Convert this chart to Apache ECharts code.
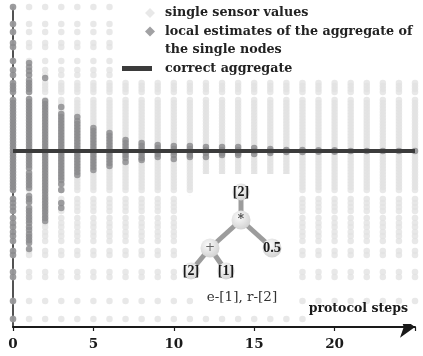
<!DOCTYPE html>
<html><head><meta charset="utf-8">
<script src="https://cdn.jsdelivr.net/npm/echarts@6/dist/echarts.min.js"></script>
<style>html,body{margin:0;padding:0;background:#fff}#c{width:423px;height:356px}</style>
</head><body><div id="c"></div>
<script>
// protocol steps (x)
const steps = [0,1,2,3,4,5,6,7,8,9,10,11,12,13,14,15,16,17,18,19,20,21,22,23,24,25];
const xTicks = [0,5,10,15,20];
// single sensor values (same set at each step)
const sensorValues = [20.0,18.94,18.44,17.75,17.5,16.63,16.06,15.75,15.25,15.06,14.88,14.69,
  14.19,14.0,13.81,13.63,13.44,13.25,13.06,12.88,12.69,12.5,12.31,12.13,11.94,11.75,11.56,11.38,
  11.19,11.0,10.81,10.63,10.44,10.25,10.06,9.88,9.69,9.5,9.31,9.13,8.94,8.75,8.56,
  8.0,7.75,7.5,7.25,6.81,6.5,6.25,5.94,5.69,5.38,4.75,4.5,3.44,3.13,1.63,0.5];
// local estimates of the aggregate, one list per protocol step
const estimatesStep0 = sensorValues;
const estimates = [
  estimatesStep0,
  [16.5,16.25,16.0,15.75,15.44,15.25,15.06,14.88,14.69,14.25,14.06,13.88,13.69,13.5,13.31,13.13,12.94,12.75,12.56,12.38,12.19,12.0,11.81,11.63,11.44,11.25,11.06,10.88,10.69,10.5,10.31,10.13,9.94,9.63,9.44,9.25,9.06,8.88,8.69,8.19,8.0,7.81,7.44,7.25,7.06,6.88,6.69,6.5,6.25,6.06,5.81,5.63,5.44,5.25,4.88],
  [15.56,14.13,13.94,13.75,13.56,13.38,13.19,13.0,12.81,12.63,12.44,12.25,12.06,11.88,11.69,11.5,11.31,11.13,10.94,10.75,10.56,10.38,10.19,10.0,9.81,9.63,9.44,9.25,9.06,8.88,8.69,8.5,8.31,8.13,7.94,7.75,7.56,7.38,7.19,7.0,6.81,6.63],
  [13.75,13.31,13.13,12.94,12.75,12.56,12.38,12.19,12.0,11.81,11.63,11.44,11.25,11.06,10.88,10.69,10.5,10.31,10.13,9.94,9.75,9.56,9.38,9.19,8.94,8.56,7.75,7.44],
  [13.13,12.88,12.69,12.5,12.31,12.13,11.94,11.75,11.56,11.38,11.19,11.0,10.81,10.63,10.44,10.25,10.06,9.88,9.69,9.5],
  [12.44,12.25,12.06,11.88,11.69,11.5,11.31,11.13,10.94,10.75,10.56,10.38,10.19,10.0,9.81],
  [12.13,11.94,11.75,11.56,11.38,11.19,11.0,10.81,10.63,10.44,10.25,10.06],
  [11.69,11.5,11.31,11.13,10.94,10.75,10.56,10.31],
  [11.5,11.31,11.13,10.94,10.75,10.56,10.44],
  [11.38,11.19,11.0,10.81,10.63],
  [11.31,11.13,10.94,10.75,10.5],
  [11.31,11.13,10.94,10.75,10.63],
  [11.25,11.06,10.88,10.63],
  [11.25,11.06,10.88,10.75],
  [11.25,11.06,10.88,10.75],
  [11.19,11.0,10.81],
  [11.13,11.0,10.88],
  [11.06,10.94],
  [11.06,10.94],
  [11.05,10.95],
  [11.05,10.95],
  [11.0],
  [11.0],[11.0],[11.0],[11.0]
];
// correct aggregate
const aggregateValue = 11.0;
const aggregateRange = [0, 25];

const SERIF = '"DejaVu Serif", serif';
const NAME_SENSOR = 'single sensor values';
const NAME_EST = 'local estimates of the aggregate of\nthe single nodes';
const NAME_AGG = 'correct aggregate';
const lightData = [];
steps.forEach(s => sensorValues.forEach(v => lightData.push([s, v])));
const darkData = [];
steps.forEach(s => (estimates[s] || []).forEach(v => darkData.push([s, v])));
const lineData = aggregateRange.map(x => [x, aggregateValue]);

const chart = echarts.init(document.getElementById('c'), null, {renderer: 'canvas'});
const grad = () => ({type:'radial', x:0.4, y:0.35, r:0.75, colorStops:[{offset:0,color:'#fbfbfb'},{offset:1,color:'#cdcdcd'}]});
const N = {top:[241,192], mul:[241,220], plus:[210,248], half:[272,248], l2:[191,271], l1:[226,271]};
const edge = (a,b) => ({type:'line', z:5, shape:{x1:N[a][0],y1:N[a][1],x2:N[b][0],y2:N[b][1]}, style:{stroke:'#9c9c9c', lineWidth:5}});
const node = (k,r) => ({type:'circle', z:6, shape:{cx:N[k][0], cy:N[k][1], r:r}, style:{fill:grad()}});
const label = (k,t,font,fill) => ({type:'text', z:7, x:N[k][0], y:N[k][1], style:{text:t, font:font, fill:fill||'#1a1a1a', align:'center', verticalAlign:'middle'}});

const legendText = {fontFamily: SERIF, fontWeight:'bold', fontSize:12.7, color:'#222', lineHeight:18};
chart.setOption({
  animation:false,
  grid:{left:13, right:8, top:7, bottom:29},
  xAxis:{type:'value', min:0, max:25, interval:5,
    axisLine:{lineStyle:{color:'#1a1a1a', width:2}, symbol:['none','arrow'], symbolSize:[16,15]},
    axisTick:{show:true, length:4, lineStyle:{color:'#1a1a1a', width:1.2}},
    axisLabel:{margin:10, fontFamily:SERIF, fontWeight:'bold', fontSize:13.5, color:'#1a1a1a',
      formatter: v => xTicks.indexOf(v) >= 0 ? String(v) : ''},
    splitLine:{show:false}},
  yAxis:{type:'value', min:0, max:20,
    axisLine:{show:true, lineStyle:{color:'#1a1a1a', width:1.5}},
    axisTick:{show:false}, axisLabel:{show:false}, splitLine:{show:false}},
  legend:[
    {data:[{name:NAME_SENSOR, icon:'diamond'}], orient:'vertical', left:145, top:4, padding:0,
      itemWidth:10, itemHeight:10, selectedMode:false, textStyle:Object.assign({}, legendText, {padding:[0,0,0,5]})},
    {data:[{name:NAME_EST, icon:'diamond'}], orient:'vertical', left:145, top:4.5, padding:0,
      formatter: n => '\n' + n,
      itemWidth:10, itemHeight:10, selectedMode:false, textStyle:Object.assign({}, legendText, {padding:[0,0,0,5]})},
    {data:[{name:NAME_AGG, icon:'rect'}], orient:'vertical', left:122, top:59.5, padding:0,
      itemWidth:30, itemHeight:5, symbolKeepAspect:false, selectedMode:false, textStyle:Object.assign({}, legendText, {padding:[0,0,0,8]})}
  ],
  series:[
    {name:NAME_SENSOR, type:'scatter', data:lightData, symbol:'circle', symbolSize:6.5,
      itemStyle:{color:'#e2e2e2'}, z:2, silent:true},
    {name:NAME_EST, type:'scatter', data:darkData, symbol:'circle', symbolSize:6.5,
      itemStyle:{color:'#8a8a8c'}, z:3, silent:true},
    {name:NAME_AGG, type:'line', data:lineData, symbol:'none', color:'#3b3b3b',
      lineStyle:{color:'#3b3b3b', width:4}, itemStyle:{color:'#3b3b3b'}, z:4, silent:true}
  ],
  graphic:{elements:[
    {type:'rect', z:3, shape:{x:117, y:0, width:306, height:79}, style:{fill:'#fff'}},
    {type:'rect', z:3, shape:{x:198, y:174, width:99, height:138}, style:{fill:'#fff'}},
    {type:'rect', z:3, shape:{x:183, y:196, width:15, height:97}, style:{fill:'#fff'}},
    {type:'rect', z:3, shape:{x:308, y:305, width:115, height:19}, style:{fill:'#fff'}},
    {type:'text', z:7, x:408, y:309, style:{text:'protocol steps', font:'bold 12.5px '+SERIF, fill:'#1a1a1a', align:'right', verticalAlign:'middle'}},
    edge('top','mul'), edge('mul','plus'), edge('mul','half'), edge('plus','l2'), edge('plus','l1'),
    node('top',8.5), node('mul',9.5), node('plus',9.5), node('half',9.5), node('l2',8.5), node('l1',8.5),
    label('top','[2]','bold 14px "Liberation Serif", serif'),
    label('mul','*','bold 12px '+SERIF, '#444'),
    label('plus','+','12px '+SERIF, '#666'),
    label('half','0.5','bold 14.5px "Liberation Serif", serif'),
    label('l2','[2]','bold 14px "Liberation Serif", serif'),
    label('l1','[1]','bold 14px "Liberation Serif", serif'),
    {type:'text', z:7, x:242, y:297, style:{text:'e-[1], r-[2]', font:'13.5px '+SERIF, fill:'#333', align:'center', verticalAlign:'middle'}}
  ]}
});
</script></body></html>
